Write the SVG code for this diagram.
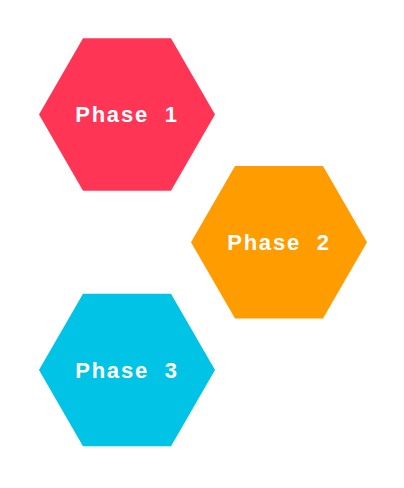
<svg xmlns="http://www.w3.org/2000/svg" width="404" height="488" viewBox="0 0 404 488">
<defs>
<style>
.lbl{font-family:"Liberation Sans","DejaVu Sans",sans-serif;font-weight:bold;font-size:22px;fill:#ffffff;text-anchor:middle;letter-spacing:1.8px;white-space:pre}
</style>
<polygon id="hex" points="-88,0 -44,-76.2 44,-76.2 88,0 44,76.2 -44,76.2"/>
</defs>
<rect width="404" height="488" fill="#ffffff"/>
<g id="connectors"></g>
<g id="phase1" transform="translate(127,114.5)">
<use href="#hex" fill="#FF3556"/>
<text class="lbl" x="0" y="7.8" xml:space="preserve">Phase  1</text>
</g>
<g id="phase2" transform="translate(279,242.2)">
<use href="#hex" fill="#FF9C00"/>
<text class="lbl" x="0" y="7.8" xml:space="preserve">Phase  2</text>
</g>
<g id="phase3" transform="translate(127,370)">
<use href="#hex" fill="#00C3E5"/>
<text class="lbl" x="0" y="7.8" xml:space="preserve">Phase  3</text>
</g>
</svg>
